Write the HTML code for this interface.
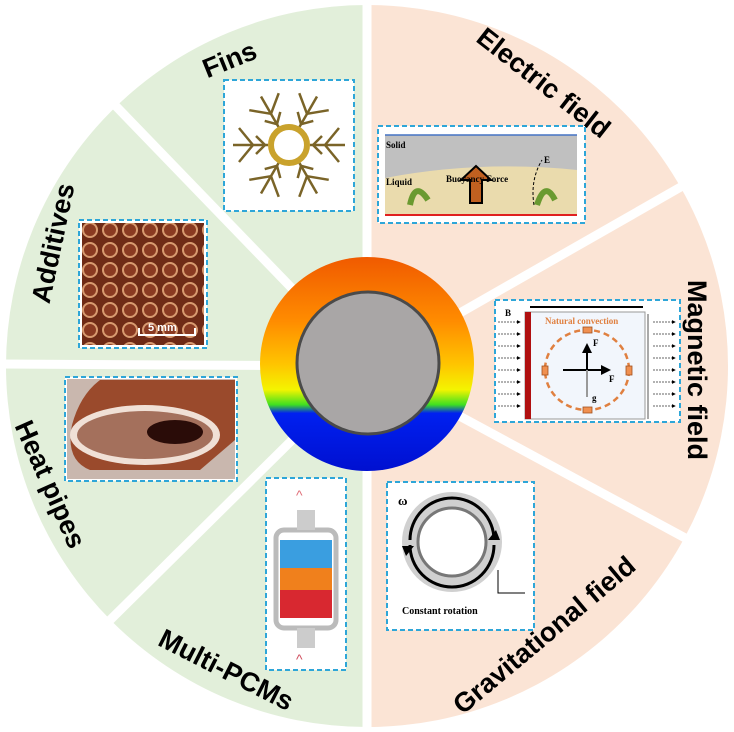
<!DOCTYPE html>
<html><head><meta charset="utf-8"><style>
html,body{margin:0;padding:0;background:#fff;}
svg{display:block;}
.lbl{font-family:"Liberation Sans",Arial,sans-serif;font-weight:bold;font-size:27px;fill:#000;}
.s{font-family:"Liberation Serif",serif;font-weight:bold;}
</style></head><body>
<svg width="734" height="732" viewBox="0 0 734 732" xmlns="http://www.w3.org/2000/svg">
<defs>
<clipPath id="lh"><rect x="0" y="0" width="367" height="732"/></clipPath>
<clipPath id="rh"><rect x="367" y="0" width="367" height="732"/></clipPath>
<linearGradient id="ring" x1="0" y1="0" x2="0" y2="1">
<stop offset="0" stop-color="#f05a00"/><stop offset="0.3" stop-color="#ff8c00"/>
<stop offset="0.5" stop-color="#ffc400"/><stop offset="0.62" stop-color="#f4f400"/>
<stop offset="0.69" stop-color="#40e020"/><stop offset="0.73" stop-color="#0020f0"/>
<stop offset="1" stop-color="#0010d0"/></linearGradient>
<pattern id="foam" width="20" height="20" patternUnits="userSpaceOnUse">
<rect width="20" height="20" fill="#6e2a16"/><circle cx="10" cy="10" r="7" fill="#8a3a22" stroke="#d89a70" stroke-width="2"/></pattern>
<marker id="ah" markerWidth="5" markerHeight="5" refX="4" refY="2.5" orient="auto"><path d="M0 0 L5 2.5 L0 5Z" fill="#000"/></marker>
</defs>
<circle cx="367" cy="366" r="361" fill="#e2efda" clip-path="url(#lh)"/>
<circle cx="367" cy="366" r="361" fill="#fbe4d5" clip-path="url(#rh)"/>
<g stroke="#fff" stroke-width="9">
<line x1="367" y1="0" x2="367" y2="732"/>
<line x1="367" y1="366" x2="0" y2="364"/>
<line x1="367" y1="366" x2="110" y2="100"/>
<line x1="367" y1="366" x2="100" y2="630"/>
<line x1="367" y1="366" x2="700" y2="176"/>
<line x1="367" y1="366" x2="700" y2="546"/>
</g>
<circle cx="367" cy="364" r="107" fill="url(#ring)"/>
<circle cx="368" cy="363" r="71" fill="#a9a6a6" stroke="#4a4a4a" stroke-width="3"/>
<text class="lbl" transform="translate(233,68) rotate(-22)" text-anchor="middle">Fins</text>
<text class="lbl" transform="translate(62,245) rotate(-78)" text-anchor="middle">Additives</text>
<text class="lbl" transform="translate(42,488) rotate(66)" text-anchor="middle">Heat pipes</text>
<text class="lbl" transform="translate(222,678) rotate(27)" text-anchor="middle">Multi-PCMs</text>
<text class="lbl" transform="translate(538,90) rotate(38)" text-anchor="middle">Electric field</text>
<text class="lbl" transform="translate(688,370) rotate(90)" text-anchor="middle">Magnetic field</text>
<text class="lbl" transform="translate(550,642) rotate(-40)" text-anchor="middle">Gravitational field</text>
<g fill="#fff" stroke="#2ea6d8" stroke-width="2" stroke-dasharray="5,3">
<rect x="224" y="80" width="130" height="131"/>
<rect x="79" y="220" width="128" height="128"/>
<rect x="65" y="377" width="172" height="104"/>
<rect x="266" y="478" width="80" height="192"/>
<rect x="378" y="126" width="207" height="97"/>
<rect x="495" y="300" width="185" height="122"/>
<rect x="387" y="482" width="147" height="148"/>
</g>
<g stroke="#7a6428" stroke-width="2.5" fill="none">
<g id="arm"><line x1="310" y1="145" x2="345" y2="145"/><line x1="325" y1="145" x2="339" y2="128"/><line x1="325" y1="145" x2="339" y2="162"/><line x1="313" y1="145" x2="322" y2="136"/><line x1="313" y1="145" x2="322" y2="154"/></g>
<use href="#arm" transform="rotate(60 289 145)"/><use href="#arm" transform="rotate(120 289 145)"/>
<use href="#arm" transform="rotate(180 289 145)"/><use href="#arm" transform="rotate(240 289 145)"/><use href="#arm" transform="rotate(300 289 145)"/>
</g>
<circle cx="289" cy="145" r="18" fill="#fff" stroke="#c9a22c" stroke-width="6"/>
<rect x="82" y="223" width="122" height="122" fill="url(#foam)"/>
<path d="M139 328 V335 H195 V328" stroke="#fff" stroke-width="2" fill="none"/>
<text x="148" y="331" font-family="Liberation Sans" font-weight="bold" font-size="11" fill="#fff">5 mm</text>
<rect x="67" y="379" width="168" height="100" fill="#c9b7ae"/>
<path d="M100 380 L235 380 L235 440 L200 470 L90 470 Q65 460 72 425 Q80 395 100 380Z" fill="#9a4a2c"/>
<ellipse cx="145" cy="435" rx="75" ry="30" fill="#f0e0d6"/>
<ellipse cx="145" cy="435" rx="68" ry="24" fill="#a4705c"/>
<ellipse cx="175" cy="432" rx="28" ry="12" fill="#2a0c08"/>
<rect x="280" y="540" width="52" height="28" fill="#3a9ee0"/>
<rect x="280" y="568" width="52" height="22" fill="#f0801c"/>
<rect x="280" y="590" width="52" height="28" fill="#d82830"/>
<rect x="276" y="530" width="60" height="98" fill="none" stroke="#bbb" stroke-width="5" rx="8"/>
<rect x="297" y="510" width="18" height="20" fill="#ccc"/><rect x="297" y="628" width="18" height="20" fill="#ccc"/>
<text x="296" y="500" font-size="14" fill="#e0707a" font-family="Liberation Sans">^</text>
<text x="296" y="664" font-size="14" fill="#d05060" font-family="Liberation Sans">^</text>
<rect x="385" y="135" width="192" height="80" fill="#eadbad"/>
<path d="M385 135 H577 V170 Q480 160 385 178Z" fill="#c0c0c0"/>
<line x1="385" y1="135" x2="577" y2="135" stroke="#4472c4" stroke-width="1.5"/>
<line x1="385" y1="215" x2="577" y2="215" stroke="#e02020" stroke-width="2"/>
<path d="M470 203 L470 180 L461 180 L476 166 L491 180 L482 180 L482 203Z" fill="#c06020" stroke="#000" stroke-width="2"/>
<path d="M534 205 Q530 180 542 160" stroke="#000" stroke-dasharray="3,2" fill="none"/>
<g class="s" font-size="9" fill="#000"><text x="386" y="148">Solid</text><text x="386" y="185">Liquid</text><text x="446" y="182">Buoyancy Force</text><text x="544" y="163">E</text></g>
<path d="M410 205 Q415 180 428 200" stroke="#6a9a30" stroke-width="6" fill="none"/>
<path d="M537 205 Q545 180 555 200" stroke="#6a9a30" stroke-width="6" fill="none"/>
<rect x="525" y="312" width="120" height="107" fill="#f2f6fc" stroke="#999"/>
<rect x="525" y="312" width="6" height="107" fill="#b01010"/>
<line x1="530" y1="307" x2="643" y2="307" stroke="#000" stroke-width="2"/>
<line x1="648" y1="314" x2="648" y2="419" stroke="#aaa" stroke-width="2"/>
<g stroke="#333" stroke-width="0.8" stroke-dasharray="2,1" marker-end="url(#ah)">
<line x1="498" y1="322" x2="520" y2="322"/><line x1="498" y1="334" x2="520" y2="334"/><line x1="498" y1="346" x2="520" y2="346"/><line x1="498" y1="358" x2="520" y2="358"/><line x1="498" y1="370" x2="520" y2="370"/><line x1="498" y1="382" x2="520" y2="382"/><line x1="498" y1="394" x2="520" y2="394"/><line x1="498" y1="406" x2="520" y2="406"/>
<line x1="653" y1="322" x2="675" y2="322"/><line x1="653" y1="334" x2="675" y2="334"/><line x1="653" y1="346" x2="675" y2="346"/><line x1="653" y1="358" x2="675" y2="358"/><line x1="653" y1="370" x2="675" y2="370"/><line x1="653" y1="382" x2="675" y2="382"/><line x1="653" y1="394" x2="675" y2="394"/><line x1="653" y1="406" x2="675" y2="406"/>
</g>
<ellipse cx="587" cy="370" rx="42" ry="40" fill="none" stroke="#e08040" stroke-width="2.5" stroke-dasharray="6,4"/>
<g fill="#f09050" stroke="#a05020" stroke-width="0.8"><rect x="583" y="327" width="9" height="6"/><rect x="583" y="407" width="9" height="6"/><rect x="542" y="366" width="6" height="9"/><rect x="626" y="366" width="6" height="9"/></g>
<line x1="587" y1="370" x2="587" y2="345" stroke="#000" stroke-width="2" marker-end="url(#ah)"/>
<line x1="563" y1="370" x2="609" y2="370" stroke="#000" stroke-width="2" marker-end="url(#ah)"/>
<line x1="587" y1="370" x2="587" y2="397" stroke="#999" stroke-width="2"/>
<g class="s" font-size="9"><text x="545" y="324" fill="#e08040">Natural convection</text><text x="505" y="316">B</text><text x="593" y="346">F</text><text x="609" y="382">F</text><text x="592" y="401">g</text></g>
<circle cx="452" cy="542" r="50" fill="#d0d0d0"/>
<circle cx="452" cy="542" r="34" fill="#fff" stroke="#777" stroke-width="3"/>
<path d="M410 540 A42 42 0 0 1 494 540" stroke="#000" stroke-width="3" fill="none"/>
<path d="M494 545 A42 42 0 0 1 410 545" stroke="#000" stroke-width="3" fill="none"/>
<path d="M496 530 L488 540 L500 540Z" fill="#000"/><path d="M406 556 L414 546 L402 546Z" fill="#000"/>
<path d="M498 570 V593 H525" stroke="#000" fill="none"/>
<g class="s" font-size="10"><text x="398" y="505" font-size="13">ω</text><text x="402" y="614">Constant rotation</text></g>
</svg>
</body></html>
